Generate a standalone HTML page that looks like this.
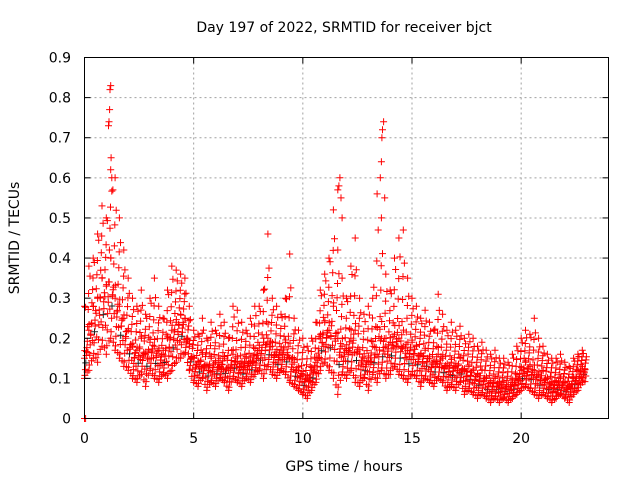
<!DOCTYPE html>
<html><head><meta charset="utf-8"><style>
body{margin:0;background:#fff;}
svg{display:block;font-family:"DejaVu Sans","Liberation Sans",sans-serif;}
</style></head><body>
<svg id="chart" width="640" height="480" xmlns="http://www.w3.org/2000/svg">
<rect width="640" height="480" fill="#fff"/>
<text x="344" y="32" font-size="14" text-anchor="middle">Day 197 of 2022, SRMTID for receiver bjct</text>
<g id="grid"></g>
<g id="marks"></g>
<rect x="84.5" y="57.5" width="524" height="361" fill="none" stroke="#000" stroke-width="1"/>
<g id="ticks"></g>
<text transform="translate(19,238) rotate(-90)" font-size="14" text-anchor="middle">SRMTID / TECUs</text>
<text x="344" y="471" font-size="14" text-anchor="middle">GPS time / hours</text>
</svg>
<script>
const xTicks=[0,5,10,15,20];
const yTicks=[0,0.1,0.2,0.3,0.4,0.5,0.6,0.7,0.8,0.9];
const yTickLabels=["0","0.1","0.2","0.3","0.4","0.5","0.6","0.7","0.8","0.9"];
const step=0.2;
const lowVals=[0.10,0.12,0.15,0.14,0.18,0.16,0.20,0.17,0.15,0.13,0.12,0.10,
0.09,0.11,0.08,0.12,0.10,0.09,0.11,0.10,0.12,0.14,0.15,0.16,
0.12,0.09,0.08,0.10,0.07,0.09,0.08,0.10,0.09,0.07,0.10,0.09,
0.08,0.10,0.09,0.11,0.12,0.10,0.13,0.11,0.10,0.12,0.11,0.09,
0.08,0.07,0.06,0.05,0.07,0.09,0.12,0.14,0.12,0.10,0.06,0.11,
0.10,0.12,0.09,0.08,0.10,0.07,0.11,0.09,0.12,0.10,0.11,0.13,
0.11,0.10,0.09,0.11,0.10,0.08,0.10,0.09,0.08,0.10,0.09,0.07,
0.08,0.07,0.09,0.06,0.07,0.06,0.05,0.06,0.05,0.04,0.05,0.04,
0.05,0.04,0.05,0.06,0.07,0.08,0.07,0.06,0.05,0.06,0.05,0.04,
0.05,0.06,0.05,0.04,0.06,0.07,0.09];
const midVals=[0.15,0.22,0.28,0.30,0.35,0.33,0.40,0.30,0.28,0.25,0.22,0.18,
0.17,0.20,0.16,0.19,0.18,0.17,0.16,0.20,0.22,0.24,0.26,0.25,
0.18,0.15,0.14,0.16,0.13,0.15,0.14,0.13,0.15,0.12,0.16,0.14,
0.13,0.15,0.14,0.16,0.17,0.19,0.20,0.18,0.16,0.17,0.19,0.15,
0.14,0.12,0.11,0.10,0.12,0.14,0.20,0.24,0.22,0.28,0.20,0.18,
0.17,0.20,0.22,0.16,0.15,0.14,0.18,0.16,0.20,0.18,0.19,0.21,
0.20,0.18,0.17,0.19,0.18,0.16,0.17,0.15,0.14,0.16,0.15,0.13,
0.14,0.13,0.15,0.12,0.13,0.12,0.11,0.12,0.10,0.09,0.10,0.09,
0.09,0.08,0.09,0.10,0.12,0.14,0.13,0.12,0.11,0.12,0.10,0.09,
0.09,0.10,0.09,0.08,0.10,0.12,0.13];
const highVals=[0.28,0.38,0.40,0.46,0.53,0.50,0.62,0.60,0.50,0.42,0.35,0.30,
0.28,0.32,0.26,0.30,0.35,0.28,0.25,0.32,0.38,0.37,0.36,0.35,
0.28,0.22,0.21,0.25,0.20,0.24,0.22,0.26,0.24,0.20,0.28,0.27,
0.24,0.22,0.25,0.28,0.28,0.32,0.46,0.30,0.28,0.26,0.30,0.41,
0.25,0.22,0.20,0.18,0.20,0.24,0.32,0.36,0.40,0.52,0.42,0.35,
0.30,0.38,0.45,0.30,0.26,0.28,0.30,0.56,0.50,0.36,0.32,0.40,
0.45,0.47,0.35,0.30,0.28,0.25,0.27,0.24,0.22,0.31,0.26,0.22,
0.24,0.22,0.23,0.20,0.21,0.20,0.18,0.19,0.17,0.16,0.17,0.15,
0.15,0.14,0.16,0.18,0.20,0.22,0.21,0.25,0.20,0.18,0.16,0.15,
0.15,0.16,0.14,0.13,0.15,0.16,0.17];
const peakTimes=[1.1,1.12,1.15,1.17,1.2,1.22,1.25,1.3,11.6,11.65,11.7,11.75,11.8,13.55,13.6,13.62,13.65,13.7,13.75];
const peakVals=[0.73,0.74,0.77,0.82,0.83,0.65,0.60,0.57,0.57,0.58,0.60,0.55,0.50,0.60,0.64,0.70,0.72,0.74,0.55];
const zeroTimes=[0,0.05];
const zeroVals=[0,0];

const NS="http://www.w3.org/2000/svg";
const X0=84.5,X1=608.5,Y0=418.5,Y1=57.5;
const xs=t=>X0+(t/24)*(X1-X0);
const ys=v=>Y0-(v/0.9)*(Y0-Y1);
const grid=document.getElementById('grid'),ticks=document.getElementById('ticks'),marks=document.getElementById('marks');
function line(p,x1,y1,x2,y2,st,dash){const l=document.createElementNS(NS,'line');l.setAttribute('x1',x1);l.setAttribute('y1',y1);l.setAttribute('x2',x2);l.setAttribute('y2',y2);l.setAttribute('stroke',st);if(dash)l.setAttribute('stroke-dasharray',dash);p.appendChild(l);return l;}
xTicks.forEach(t=>{const x=xs(t);
 const g=line(grid,x,Y1,x,Y0,'#a0a0a0','2,3');
 
 
 line(ticks,x,Y0,x,Y0-6,'#000');line(ticks,x,Y1,x,Y1+6,'#000');
 const tx=document.createElementNS(NS,'text');
 
 
 tx.setAttribute('x',x);tx.setAttribute('y',443);tx.setAttribute('font-size','14');tx.setAttribute('text-anchor','middle');tx.textContent=t;ticks.appendChild(tx);});
yTicks.forEach((v,i)=>{const y=ys(v);
 const g=line(grid,X0,y,X1,y,'#a0a0a0','2,3');
 
 
 line(ticks,X0,y,X0+6,y,'#000');line(ticks,X1,y,X1-6,y,'#000');
 const tx=document.createElementNS(NS,'text');
 
 
 tx.setAttribute('x',71);tx.setAttribute('y',y+5);tx.setAttribute('font-size','14');tx.setAttribute('text-anchor','end');tx.textContent=yTickLabels[i];ticks.appendChild(tx);});
let dBlack='',dRed='';
function plus(t,v){const x=xs(t),y=ys(v);return `M${(x-3.5).toFixed(1)} ${y.toFixed(1)}h7M${x.toFixed(1)} ${(y-3.5).toFixed(1)}v7`;}
const wts=[[0.02,0.9,0.1,0],[0.04,0.7,0.3,0],[0.06,0.5,0.5,0],[0.08,0.3,0.7,0],[0.11,0.15,0.85,0],[0.14,0,0.8,0.2],[0.17,0,0.6,0.4],[0.19,0,0.4,0.6],[0.05,0,0.2,0.8],[0.09,0.6,0.2,0.2],[0.13,0.4,0.4,0.2],[0.16,0.8,0,0.2],[0.01,0.2,0.6,0.2],[0.12,0.95,0.05,0]];
for(let i=0;i<midVals.length;i++){
 const t=i*step,lo=lowVals[i],md=midVals[i],hi=highVals[i];
 const j=Math.min(i+1,midVals.length-1);
 dRed+=plus(t,lo)+plus(t,md)+plus(t,hi);
 wts.forEach((w,k)=>{const f=w[0]/step;
  const L=lo*(1-f)+lowVals[j]*f,M=md*(1-f)+midVals[j]*f,H=hi*(1-f)+highVals[j]*f;
  const v=w[1]*L+w[2]*M+w[3]*H;
  if(k===2 && i%2===0) dBlack+=plus(t+w[0],v); else dRed+=plus(t+w[0],v);});
}
peakTimes.forEach((t,i)=>{dRed+=plus(t,peakVals[i]);});
zeroTimes.forEach((t,i)=>{dRed+=plus(t,zeroVals[i]);});
const pb=document.createElementNS(NS,'path');


pb.setAttribute('d',dBlack);pb.setAttribute('stroke','#222');pb.setAttribute('fill','none');marks.appendChild(pb);
const pr=document.createElementNS(NS,'path');


pr.setAttribute('d',dRed);pr.setAttribute('stroke','#ff0000');pr.setAttribute('fill','none');marks.appendChild(pr);
</script>
</body></html>
